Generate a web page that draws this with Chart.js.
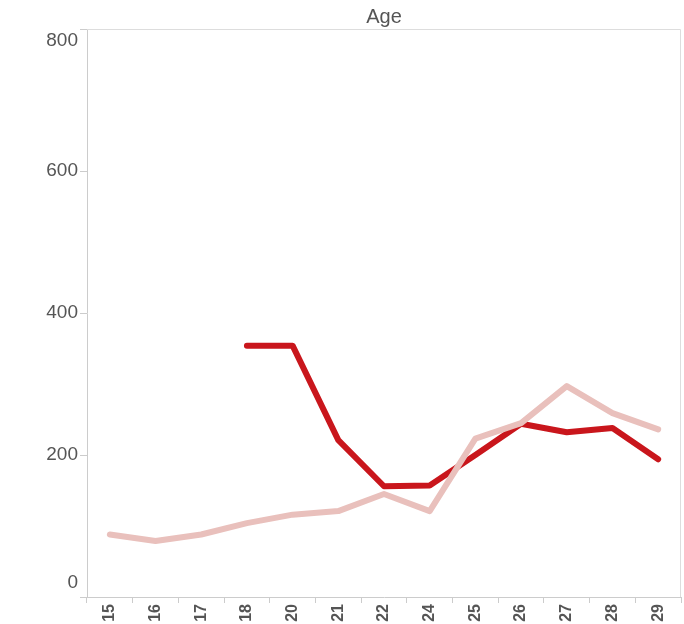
<!DOCTYPE html>
<html>
<head>
<meta charset="utf-8">
<script src="https://cdn.jsdelivr.net/npm/chart.js@4/dist/chart.umd.min.js"></script>
<style>
    html, body { margin: 0; padding: 0; background: #fff; }
    #wrap { width: 684px; height: 624px; }
</style>
</head>
<body>
<div id="wrap"><canvas id="chart"></canvas></div>
<script>
// Age chart data
const ages = ['15', '16', '17', '18', '20', '21', '22', '24', '25', '26', '27', '28', '29'];
const darkSeries = [null, null, null, 354, 354, 221, 156, 157, 200, 244, 232, 238, 194];
const lightSeries = [88, 79, 88, 104, 116, 121, 145, 121, 223, 245, 297, 259, 236];
const yTicks = [0, 200, 400, 600, 800];
const chartTitle = 'Age';

const textColor = '#555555';
const frameColor = '#dddddd';
const axisColor = '#cccccc';

// Draws the frame, title and y labels (Tableau style: edge labels pushed inward)
const framePlugin = {
    id: 'framePlugin',
    afterDraw: function(chart) {
        const ctx = chart.ctx;
        const area = chart.chartArea;
        const yScale = chart.scales.y;

        ctx.save();
        ctx.strokeStyle = frameColor;
        ctx.lineWidth = 1;
        ctx.beginPath();
        ctx.moveTo(area.left, area.top + 0.5);
        ctx.lineTo(area.right - 0.5, area.top + 0.5);
        ctx.lineTo(area.right - 0.5, area.bottom);
        ctx.stroke();

        ctx.fillStyle = textColor;
        ctx.font = '20px "Liberation Sans", Arial, sans-serif';
        ctx.textAlign = 'center';
        ctx.textBaseline = 'middle';
        ctx.fillText(chartTitle, (area.left + area.right) / 2, 17);

        ctx.font = '19px "Liberation Sans", Arial, sans-serif';
        ctx.textAlign = 'right';
        yTicks.forEach(v => {
            let y = yScale.getPixelForValue(v);
            if (v === yScale.max) y += 12;
            if (v === yScale.min) y -= 14;
            ctx.fillText(String(v), area.left - 9, y);
        });
        ctx.restore();
    }
};

document.addEventListener('DOMContentLoaded', function() {
    const ctx = document.getElementById('chart').getContext('2d');
    new Chart(ctx, {
        type: 'line',
        data: {
            labels: ages,
            datasets: [
                {
                    label: 'Light',
                    data: lightSeries,
                    borderColor: '#e9c0bc',
                    borderWidth: 6,
                    borderCapStyle: 'round',
                    borderJoinStyle: 'round',
                    pointRadius: 0,
                    tension: 0
                },
                {
                    label: 'Dark',
                    data: darkSeries,
                    borderColor: '#c9161c',
                    borderWidth: 6,
                    borderCapStyle: 'round',
                    borderJoinStyle: 'round',
                    pointRadius: 0,
                    tension: 0
                }
            ]
        },
        options: {
            responsive: true,
            maintainAspectRatio: false,
            animation: false,
            layout: { padding: { top: 29, right: 3, left: 0, bottom: 0 } },
            plugins: {
                legend: { display: false },
                title: { display: false },
                tooltip: { enabled: false }
            },
            scales: {
                x: {
                    type: 'category',
                    offset: true,
                    grid: {
                        offset: true,
                        drawOnChartArea: false,
                        drawTicks: true,
                        tickLength: 6,
                        color: axisColor
                    },
                    border: { color: axisColor, width: 1 },
                    ticks: {
                        color: textColor,
                        font: { family: '"Liberation Sans", Arial, sans-serif', size: 16, weight: 'bold' },
                        minRotation: 90,
                        maxRotation: 90,
                        padding: 1,
                        autoSkip: false
                    },
                    afterFit: function(scale) { scale.height = 27; }
                },
                y: {
                    min: 0,
                    max: 800,
                    grid: {
                        drawOnChartArea: false,
                        drawTicks: true,
                        tickLength: 7,
                        color: axisColor
                    },
                    border: { color: axisColor, width: 1 },
                    ticks: {
                        stepSize: 200,
                        display: true,
                        color: 'rgba(0,0,0,0)',
                        font: { size: 1 },
                        padding: 0
                    },
                    afterFit: function(scale) { scale.width = 87; }
                }
            }
        },
        plugins: [framePlugin]
    });
});
</script>
</body>
</html>
